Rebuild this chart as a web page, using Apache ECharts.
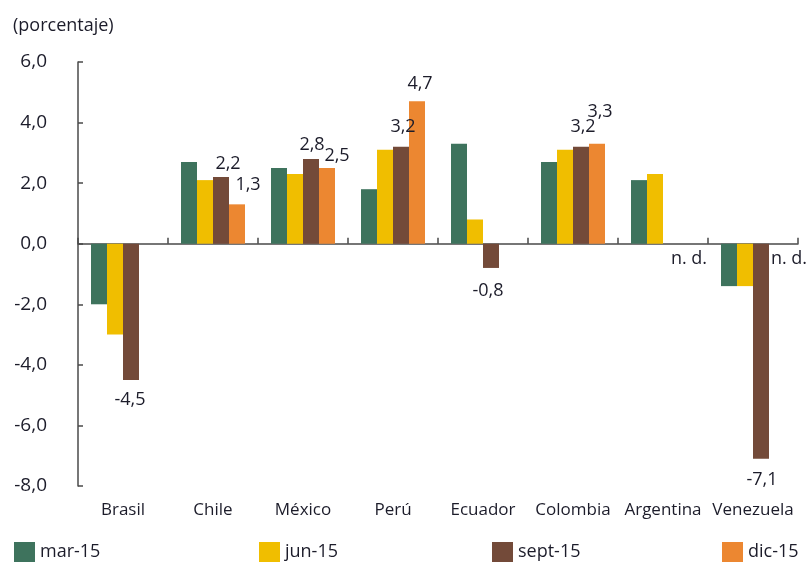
<!DOCTYPE html>
<html>
<head>
<meta charset="utf-8">
<script src="https://cdn.jsdelivr.net/npm/echarts@6/dist/echarts.min.js"></script>
<style>
html,body{margin:0;padding:0;background:#fff;}
#chart{width:811px;height:563px;}
</style>
</head>
<body>
<div id="chart"></div>
<script>
// ---- data ----
var categories = ['Brasil', 'Chile', 'México', 'Perú', 'Ecuador', 'Colombia', 'Argentina', 'Venezuela'];
var seriesNames = ['mar-15', 'jun-15', 'sept-15', 'dic-15'];
var mar15  = [-2.0, 2.7, 2.5, 1.8, 3.3, 2.7, 2.1, -1.4];
var jun15  = [-3.0, 2.1, 2.3, 3.1, 0.8, 3.1, 2.3, -1.4];
var sept15 = [-4.5, 2.2, 2.8, 3.2, -0.8, 3.2, null, -7.1];
var dic15  = [null, 1.3, 2.5, 4.7, null, 3.3, null, null];
var dicNotAvailable = [false, false, false, false, false, false, true, true];
var sept15Labelled = [true, true, true, true, true, true, false, true];
var dic15Labelled  = [false, true, true, true, false, true, false, false];
var yTickValues = [-8, -6, -4, -2, 0, 2, 4, 6];

// ---- styling ----
var FONT = 'Open Sans';
var TXT = '#1c1c2a';
var colors = ['#3e735d', '#f0be00', '#734a39', '#ec8731'];
// label nudges (style only), per category index
var septOffsets = [[-1, 6], [7, 1], [1, 0], [2, -6], [-3, 9], [2, -6], [0, 0], [1, 7]];
var dicOffsets  = [[0, 0], [11, -5], [10, 2], [3, -3], [0, 0], [3, -18], [2, 1], [12, 1]];

function fmt(v) { return v.toFixed(1).replace('.', ','); }

function labelledData(values, flags, offsets, nd) {
  return values.map(function (v, i) {
    if (nd && nd[i]) {
      return { value: 0, label: { show: true, position: 'bottom', formatter: 'n. d.', offset: offsets[i] } };
    }
    if (v === null) return null;
    if (!flags[i]) return v;
    return {
      value: v,
      label: { show: true, position: v < 0 ? 'bottom' : 'top', offset: offsets[i] }
    };
  });
}

var labelBase = {
  show: false,
  fontFamily: FONT, fontSize: 18, color: TXT,
  formatter: function (p) { return fmt(p.value); }
};

function barSeries(name, data, idx) {
  return {
    name: name, type: 'bar', xAxisIndex: 0, yAxisIndex: 0,
    data: data, barWidth: 16, barGap: '0%',
    itemStyle: { color: colors[idx] },
    label: labelBase,
    emphasis: { disabled: true },
    animation: false
  };
}

var legendLefts = [14, 259, 492, 722];

var option = {
  animation: false,
  title: {
    text: '(porcentaje)', left: 8, top: 12,
    textStyle: { fontFamily: FONT, fontSize: 18, fontWeight: 'normal', color: TXT }
  },
  grid: { left: 78, right: 13, top: 62, bottom: 77 },
  legend: seriesNames.map(function (n, i) {
    return {
      data: [n], left: legendLefts[i], top: 542, padding: 0,
      itemWidth: 21, itemHeight: 20, icon: 'rect', itemGap: 5,
      textStyle: { fontFamily: FONT, fontSize: 18, color: TXT },
      selectedMode: false
    };
  }),
  xAxis: [
    {
      type: 'category', data: categories, position: 'bottom',
      axisLine: { show: false, onZero: false }, axisTick: { show: false },
      axisLabel: { fontFamily: FONT, fontSize: 17, color: TXT, margin: 16, interval: 0 }
    },
    {
      type: 'category', data: categories, position: 'top',
      axisLine: { show: true, onZero: true, lineStyle: { color: '#4a4a4a', width: 1.5 } },
      axisTick: { show: true, inside: false, length: 6, lineStyle: { color: '#4a4a4a', width: 1.5 } },
      axisLabel: { show: false }
    }
  ],
  yAxis: {
    type: 'value', min: yTickValues[0], max: yTickValues[yTickValues.length - 1], interval: 2,
    axisLine: { show: true, lineStyle: { color: '#4a4a4a', width: 1.5 } },
    axisTick: { show: true, inside: true, length: 5, lineStyle: { color: '#4a4a4a', width: 1.5 } },
    splitLine: { show: false },
    axisLabel: {
      fontFamily: FONT, fontSize: 19, color: TXT, margin: 31,
      formatter: function (v) { return fmt(v); }
    }
  },
  series: [
    barSeries(seriesNames[0], mar15, 0),
    barSeries(seriesNames[1], jun15, 1),
    barSeries(seriesNames[2], labelledData(sept15, sept15Labelled, septOffsets), 2),
    barSeries(seriesNames[3], labelledData(dic15, dic15Labelled, dicOffsets, dicNotAvailable), 3)
  ]
};

var chart = echarts.init(document.getElementById('chart'), null, { renderer: 'canvas' });
chart.setOption(option);
</script>
</body>
</html>
